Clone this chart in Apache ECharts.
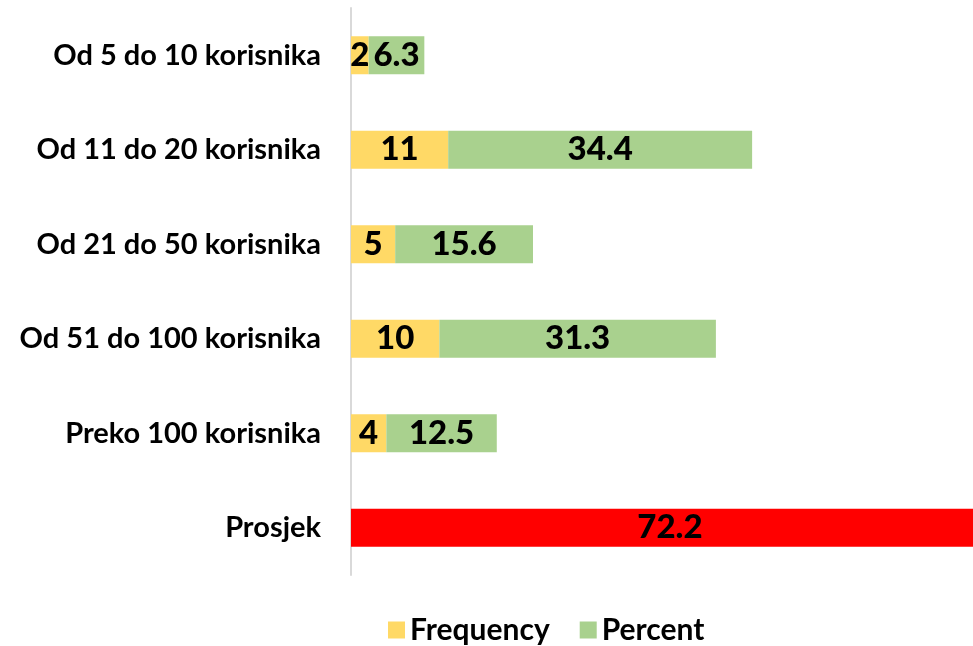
<!DOCTYPE html>
<html>
<head>
<meta charset="utf-8">
<script src="https://cdn.jsdelivr.net/npm/echarts@6/dist/echarts.min.js"></script>
<style>
  html, body { margin: 0; padding: 0; background: #fff; }
  #main { width: 973px; height: 646px; }
</style>
</head>
<body>
<div id="main"></div>
<script>
// kategorije odozgo prema dolje
var categories = ['Od 5 do 10 korisnika', 'Od 11 do 20 korisnika', 'Od 21 do 50 korisnika',
  'Od 51 do 100 korisnika', 'Preko 100 korisnika', 'Prosjek'];
var frequency = [2, 11, 5, 10, 4, null];
var percent = [6.3, 34.4, 15.6, 31.3, 12.5, null];
var prosjek = [null, null, null, null, null, 72.2];

var chart = echarts.init(document.getElementById('main'));

var valueLabel = {
  show: true,
  position: 'inside',
  color: '#000',
  fontFamily: 'Lato',
  fontWeight: 900,
  fontSize: 33
};

var option = {
  animation: false,
  backgroundColor: '#fff',
  grid: {
    left: 351,
    top: 8,
    height: 567,
    right: 0
  },
  legend: {
    data: ['Frequency', 'Percent'],
    left: 388,
    top: 615,
    padding: 0,
    icon: 'rect',
    itemWidth: 17,
    itemHeight: 17,
    itemGap: 30,
    textStyle: {
      color: '#000',
      fontFamily: 'Lato',
      fontWeight: 'bold',
      fontSize: 30
    }
  },
  // prosjek izlazi izvan desnog ruba, kao u originalu
  xAxis: {
    type: 'value',
    min: 0,
    max: 70.4,
    show: false
  },
  yAxis: {
    type: 'category',
    inverse: true,
    data: categories,
    axisLine: { lineStyle: { color: '#D9D9D9', width: 2 } },
    axisTick: { show: false },
    axisLabel: {
      margin: 30,
      color: '#000',
      fontFamily: 'Lato',
      fontWeight: 'bold',
      fontSize: 29
    }
  },
  series: [
    {
      name: 'Frequency',
      type: 'bar',
      stack: 'a',
      barWidth: 38,
      data: frequency,
      itemStyle: { color: '#FFD966' },
      label: valueLabel
    },
    {
      name: 'Percent',
      type: 'bar',
      stack: 'a',
      barWidth: 38,
      data: percent,
      itemStyle: { color: '#A9D18E' },
      label: valueLabel
    },
    {
      name: 'Prosjek',
      type: 'bar',
      stack: 'a',
      barWidth: 38,
      clip: false,
      data: prosjek,
      itemStyle: { color: '#FF0000' },
      label: valueLabel
    }
  ]
};

chart.setOption(option);
</script>
</body>
</html>
